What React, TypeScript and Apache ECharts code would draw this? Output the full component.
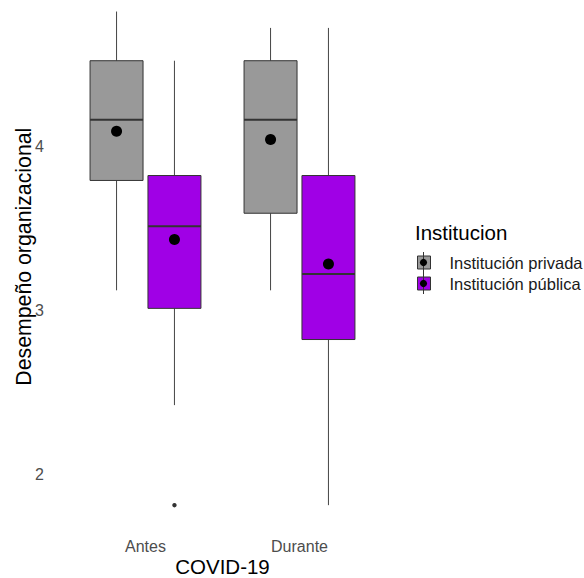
import React, { useEffect, useRef } from "react";
import * as echarts from "echarts";

const categories = ["Antes", "Durante"];
const seriesNames = ["Institución privada", "Institución pública"];
// [low whisker, Q1, median, Q3, high whisker]
const privadaBoxes = [
  [3.12, 3.79, 4.16, 4.52, 4.82],
  [3.12, 3.59, 4.16, 4.52, 4.72],
];
const publicaBoxes = [
  [2.42, 3.01, 3.51, 3.82, 4.52],
  [1.81, 2.82, 3.22, 3.82, 4.72],
];
const privadaMeans = [4.09, 4.04];
const publicaMeans = [3.43, 3.28];
// [category index, value]
const publicaOutliers = [[0, 1.81]];
const yTicks = [2, 3, 4];

const FONT = "'Liberation Sans', Arial, Helvetica, sans-serif";
const colors = ["#999999", "#A000E6"];
const DODGE = 0.188;
const BOXW = 0.344;

function buildData(boxes: number[][], means: number[]) {
  return boxes.map((b, i) => [i, ...b, means[i]]);
}

function boxRender(offset: number) {
  return (params: any, api: any) => {
    const idx = api.value(0);
    const band = api.size([1, 0])[0];
    const cx = api.coord([idx, 0])[0] + offset * band;
    const w = BOXW * band;
    const y = (k: number) => api.coord([idx, api.value(k)])[1];
    const yLow = y(1), yQ1 = y(2), yMed = y(3), yQ3 = y(4), yHigh = y(5), yMean = y(6);
    const fill = api.visual("color");
    const stroke = "#333333";
    return {
      type: "group",
      children: [
        { type: "line", shape: { x1: cx, y1: yHigh, x2: cx, y2: yQ3 }, style: { stroke: "#444444", lineWidth: 1 } },
        { type: "line", shape: { x1: cx, y1: yQ1, x2: cx, y2: yLow }, style: { stroke: "#444444", lineWidth: 1 } },
        {
          type: "rect",
          shape: { x: cx - w / 2, y: yQ3, width: w, height: yQ1 - yQ3 },
          style: { fill, stroke, lineWidth: 1 },
        },
        { type: "line", shape: { x1: cx - w / 2, y1: yMed, x2: cx + w / 2, y2: yMed }, style: { stroke, lineWidth: 2 } },
        { type: "circle", shape: { cx, cy: yMean, r: 5.5 }, style: { fill: "#000000" } },
      ],
    };
  };
}

function outlierRender(offset: number) {
  return (params: any, api: any) => {
    const idx = api.value(0);
    const band = api.size([1, 0])[0];
    const p = api.coord([idx, api.value(1)]);
    return {
      type: "circle",
      shape: { cx: p[0] + offset * band, cy: p[1], r: 2.2 },
      style: { fill: "#333333" },
    };
  };
}

export default function App() {
  const ref = useRef<HTMLDivElement>(null);
  useEffect(() => {
    if (!ref.current) return;
    const chart = echarts.init(ref.current, undefined, { renderer: "svg" });
    const option: any = {
      animation: false,
      backgroundColor: "#ffffff",
      textStyle: { fontFamily: FONT },
      grid: { left: 68.5, top: -18, width: 308, height: 549.4, outerBoundsMode: "none", containLabel: false },
      xAxis: {
        type: "category",
        data: categories,
        boundaryGap: true,
        axisLine: { show: false },
        axisTick: { show: false },
        splitLine: { show: false },
        axisLabel: { color: "#4D4D4D", fontSize: 16, margin: 7, fontFamily: FONT },
        name: "COVID-19",
        nameLocation: "middle",
        nameGap: 25,
        nameMoveOverlap: false,
        nameTextStyle: { color: "#000000", fontSize: 20.5, fontFamily: FONT },
      },
      yAxis: {
        type: "value",
        min: 1.65,
        max: 5,
        axisLine: { show: false },
        axisTick: { show: false },
        splitLine: { show: false },
        axisLabel: { color: "#4D4D4D", fontSize: 16, margin: 24.5, fontFamily: FONT, customValues: yTicks },
        name: "Desempeño organizacional",
        nameLocation: "middle",
        nameGap: 34,
        nameMoveOverlap: false,
        nameTextStyle: { color: "#000000", fontSize: 21.3, fontFamily: FONT },
      },
      legend: {
        data: seriesNames,
        orient: "vertical",
        left: 417,
        top: 254,
        padding: 0,
        icon: "rect",
        itemWidth: 13,
        itemHeight: 13,
        itemGap: 4,
        selectedMode: false,
        itemStyle: { borderColor: "#333333", borderWidth: 1 },
        textStyle: { color: "#1A1A1A", fontSize: 16.5, fontFamily: FONT, padding: [0, 0, 0, 14] },
      },
      graphic: [
        {
          type: "text",
          left: 415,
          top: 222,
          style: { text: "Institucion", fontSize: 20.5, fontFamily: FONT, fill: "#000000" },
        },
        { type: "line", shape: { x1: 423.5, y1: 252, x2: 423.5, y2: 273 }, style: { stroke: "#333333", lineWidth: 1 }, z: 100 },
        { type: "circle", shape: { cx: 423.5, cy: 262.5, r: 3.6 }, style: { fill: "#000000" }, z: 100 },
        { type: "line", shape: { x1: 423.5, y1: 273, x2: 423.5, y2: 294 }, style: { stroke: "#333333", lineWidth: 1 }, z: 100 },
        { type: "circle", shape: { cx: 423.5, cy: 283.5, r: 3.6 }, style: { fill: "#000000" }, z: 100 },
      ],
      series: [
        {
          name: seriesNames[0],
          type: "custom",
          itemStyle: { color: colors[0] },
          encode: { x: 0, y: [1, 2, 3, 4, 5, 6] },
          data: buildData(privadaBoxes, privadaMeans),
          renderItem: boxRender(-DODGE),
        },
        {
          name: seriesNames[1],
          type: "custom",
          itemStyle: { color: colors[1] },
          encode: { x: 0, y: [1, 2, 3, 4, 5, 6] },
          data: buildData(publicaBoxes, publicaMeans),
          renderItem: boxRender(DODGE),
        },
        {
          name: "Atípicos pública",
          type: "custom",
          itemStyle: { color: "#333333" },
          encode: { x: 0, y: 1 },
          data: publicaOutliers,
          renderItem: outlierRender(DODGE),
        },
      ],
    };
    chart.setOption(option);
    return () => chart.dispose();
  }, []);
  return (
    <div
      ref={ref}
      style={{ position: "fixed", left: 0, top: 0, width: 584, height: 578 }}
    />
  );
}
